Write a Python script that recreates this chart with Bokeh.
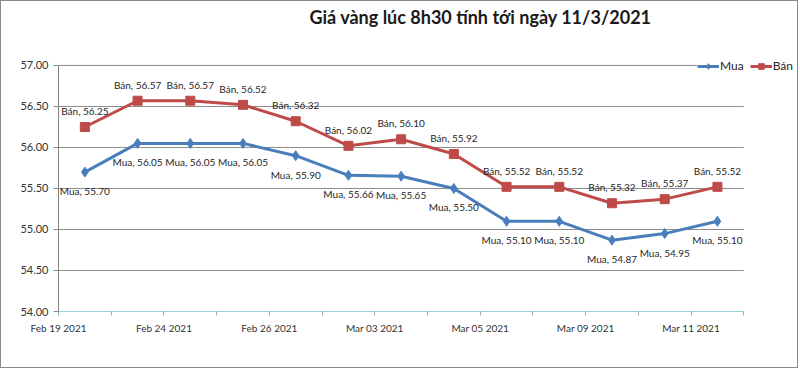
from bokeh.plotting import figure
from bokeh.models import (FixedTicker, PrintfTickFormatter, Legend, LegendItem,
                          ColumnDataSource, Range1d, Label)
from bokeh.core.properties import value
from bokeh.embed import file_html
from bokeh.resources import INLINE

title_text = "Giá vàng lúc 8h30 tính tới ngày 11/3/2021"
tick_labels = ["Feb 19 2021", "Feb 24 2021", "Feb 26 2021", "Mar 03 2021",
               "Mar 05 2021", "Mar 09 2021", "Mar 11 2021"]
mua = [55.70, 56.05, 56.05, 56.05, 55.90, 55.66, 55.65, 55.50, 55.10, 55.10, 54.87, 54.95, 55.10]
ban = [56.25, 56.57, 56.57, 56.52, 56.32, 56.02, 56.10, 55.92, 55.52, 55.52, 55.32, 55.37, 55.52]
y_ticks = [54.0, 54.5, 55.0, 55.5, 56.0, 56.5, 57.0]

n = len(mua)
xs = [i + 0.5 for i in range(n)]
BLUE = "#4A7EBB"
RED = "#BE4B48"
FONT = "Lato"
y_lo, y_hi = y_ticks[0], y_ticks[-1]

src = ColumnDataSource(dict(
    x=xs, mua=mua, ban=ban,
    mua_lbl=[f"Mua, {v:.2f}" for v in mua],
    ban_lbl=[f"Bán, {v:.2f}" for v in ban],
))

# The frame spans the full top and extends right so that the title and the legend
# (which sits on the top-right corner of the plot area) are not clipped.
p = figure(width=798, height=368, x_range=Range1d(0, n + 1), y_range=Range1d(y_lo, y_hi + 0.78),
           output_backend="svg", toolbar_location=None,
           min_border_left=57, min_border_right=3, min_border_top=0, min_border_bottom=58)
p.styles = {"border": "1px solid #8a8a8a"}
p.outline_line_color = None
p.background_fill_color = "white"
p.border_fill_color = "white"

title = Label(x=251, y=295, x_units="screen", y_units="screen", text=title_text,
              text_font=FONT, text_font_size="18px", text_font_style="bold",
              text_color="#1a1a1a", text_align="left", text_baseline="middle")
p.add_layout(title)

# grid lines, drawn only over the category span
p.xgrid.visible = False
p.ygrid.visible = False
grid_src = ColumnDataSource(dict(x0=[0] * len(y_ticks), x1=[n] * len(y_ticks), y=y_ticks))
p.segment(x0="x0", y0="y", x1="x1", y1="y", source=grid_src, line_color="#8c8c8c", line_width=1)

# y axis
p.yaxis.ticker = FixedTicker(ticks=y_ticks)
p.yaxis.bounds = (y_lo, y_hi)
p.yaxis.formatter = PrintfTickFormatter(format="%.2f")
p.yaxis.axis_line_color = "#7f7f7f"
p.yaxis.major_tick_line_color = "#8c8c8c"
p.yaxis.major_tick_out = 5
p.yaxis.major_tick_in = 0
p.yaxis.minor_tick_line_color = None
p.yaxis.major_label_text_font = FONT
p.yaxis.major_label_text_font_size = "11px"
p.yaxis.major_label_text_color = "#333333"
p.yaxis.major_label_standoff = 5

# x axis: tick marks at category boundaries, labels on every second one
xt = list(range(n + 1))
p.xaxis.ticker = FixedTicker(ticks=xt)
p.xaxis.bounds = (0, n)
overrides = {t: "" for t in xt}
for k, lab in enumerate(tick_labels):
    overrides[2 * k] = lab
p.xaxis.major_label_overrides = overrides
p.xaxis.axis_line_color = "#9fd4df"
p.xaxis.major_tick_line_color = "#9aa8b0"
p.xaxis.major_tick_out = 4
p.xaxis.major_tick_in = 0
p.xaxis.minor_tick_line_color = None
p.xaxis.major_label_text_font = FONT
p.xaxis.major_label_text_font_size = "10px"
p.xaxis.major_label_text_color = "#333333"
p.xaxis.major_label_standoff = 6

# series
l_mua = p.line("x", "mua", source=src, line_color=BLUE, line_width=3)
s_mua = p.scatter("x", "mua", source=src, marker="diamond", size=10,
                  fill_color=BLUE, line_color=BLUE)
l_ban = p.line("x", "ban", source=src, line_color=RED, line_width=3)
s_ban = p.scatter("x", "ban", source=src, marker="square", size=9,
                  fill_color=RED, line_color=RED)

# data labels
p.text("x", "ban", text="ban_lbl", source=src, text_align="center", text_baseline="middle",
       y_offset=-16, text_font=value(FONT), text_font_size="10px", text_color="#262626")
p.text("x", "mua", text="mua_lbl", source=src, text_align="center", text_baseline="middle",
       y_offset=19, text_font=value(FONT), text_font_size="10px", text_color="#262626")

legend = Legend(items=[LegendItem(label="Mua", renderers=[l_mua, s_mua]),
                       LegendItem(label="Bán", renderers=[l_ban, s_ban])],
                orientation="horizontal", location=(639, 238))
legend.padding = 0
legend.margin = 0
legend.spacing = 6
legend.glyph_width = 22
legend.glyph_height = 14
legend.label_standoff = 1
legend.label_text_font = FONT
legend.label_text_font_size = "12px"
legend.label_text_color = "#262626"
legend.background_fill_color = "white"
legend.background_fill_alpha = 1
legend.border_line_color = None
p.add_layout(legend)

open("out.html", "w").write(file_html(p, INLINE))
